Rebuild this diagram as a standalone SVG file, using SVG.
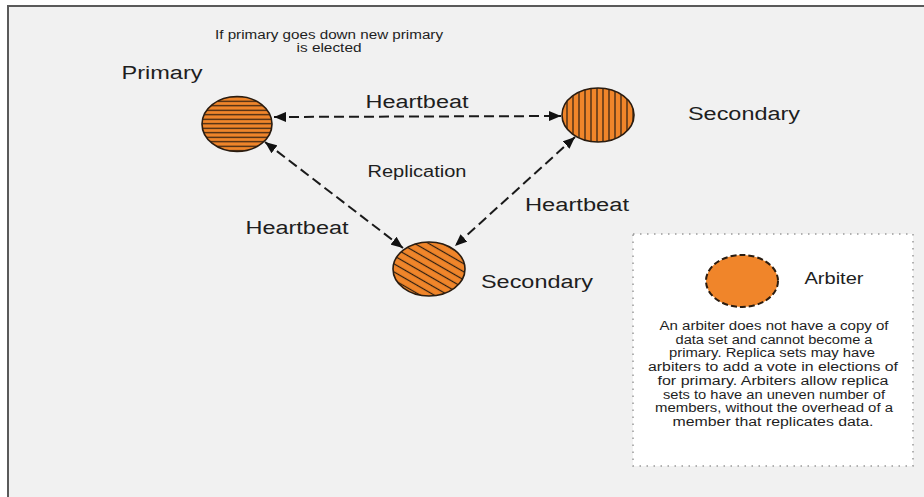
<svg xmlns="http://www.w3.org/2000/svg" width="924" height="497" viewBox="0 0 924 497">
  <style>
    .lbl { font-family: "Liberation Sans", Arial, sans-serif; fill: #1e1e1e; text-anchor: middle; }
    .big { font-size: 18px; }
    .mid { font-size: 16px; }
    .small { font-size: 12px; }
    .para { font-size: 12.5px; }
    .node { stroke: #2a1c10; stroke-width: 1.6; }
    .link { fill: none; stroke: #1a1a1a; stroke-width: 2; stroke-dasharray: 10 5; marker-start: url(#arrow); marker-end: url(#arrow); }
  </style>
  <defs>
    <marker id="arrow" viewBox="0 0 12 10" refX="12" refY="5" markerWidth="12" markerHeight="10" markerUnits="userSpaceOnUse" orient="auto-start-reverse">
      <path d="M0,0 L12,5 L0,10 z" fill="#111"/>
    </marker>
    <pattern id="hatch-h" patternUnits="userSpaceOnUse" width="10" height="4.5">
      <rect width="10" height="4.5" fill="#f0852a"/>
      <line x1="0" y1="2.25" x2="10" y2="2.25" stroke="#2a1c10" stroke-width="1.2"/>
    </pattern>
    <pattern id="hatch-v" patternUnits="userSpaceOnUse" width="6" height="10">
      <rect width="6" height="10" fill="#f0852a"/>
      <line x1="3" y1="0" x2="3" y2="10" stroke="#2a1c10" stroke-width="1.2"/>
    </pattern>
    <pattern id="hatch-d" patternUnits="userSpaceOnUse" width="10" height="7" patternTransform="rotate(30)">
      <rect width="10" height="7" fill="#f0852a"/>
      <line x1="0" y1="3.5" x2="10" y2="3.5" stroke="#2a1c10" stroke-width="1.2"/>
    </pattern>
  </defs>

  <!-- page and frame -->
  <rect x="0" y="0" width="924" height="497" fill="#ffffff"/>
  <rect x="8" y="6" width="940" height="520" fill="#f1f1f1" stroke="#5a5a5a" stroke-width="2"/>

  <!-- note at the top -->
  <g id="note">
    <text class="lbl small" x="329" y="39" textLength="228" lengthAdjust="spacingAndGlyphs">If primary goes down new primary</text>
    <text class="lbl small" x="329" y="52" textLength="65" lengthAdjust="spacingAndGlyphs">is elected</text>
  </g>

  <!-- connectors -->
  <g id="connectors">
    <line class="link" x1="274" y1="117" x2="561" y2="116"/>
    <line class="link" x1="265" y1="142" x2="403" y2="248"/>
    <line class="link" x1="575" y1="137" x2="455" y2="246"/>
    <text class="lbl big" x="417" y="108" textLength="103" lengthAdjust="spacingAndGlyphs">Heartbeat</text>
    <text class="lbl mid" x="417" y="177" textLength="99" lengthAdjust="spacingAndGlyphs">Replication</text>
    <text class="lbl big" x="297" y="234" textLength="103" lengthAdjust="spacingAndGlyphs">Heartbeat</text>
    <text class="lbl big" x="577" y="211" textLength="104" lengthAdjust="spacingAndGlyphs">Heartbeat</text>
  </g>

  <!-- primary member -->
  <g id="primary">
    <ellipse class="node" cx="237" cy="124" rx="35" ry="27.5" fill="url(#hatch-h)"/>
    <text class="lbl big" x="162" y="79" textLength="81" lengthAdjust="spacingAndGlyphs">Primary</text>
  </g>

  <!-- secondary member, upper right -->
  <g id="secondary-1">
    <ellipse class="node" cx="598" cy="115" rx="36" ry="27" fill="url(#hatch-v)"/>
    <text class="lbl big" x="744" y="120" textLength="112" lengthAdjust="spacingAndGlyphs">Secondary</text>
  </g>

  <!-- secondary member, bottom -->
  <g id="secondary-2">
    <ellipse class="node" cx="429" cy="269" rx="36" ry="27" fill="url(#hatch-d)"/>
    <text class="lbl big" x="537" y="288" textLength="112" lengthAdjust="spacingAndGlyphs">Secondary</text>
  </g>

  <!-- arbiter legend -->
  <g id="arbiter">
    <rect x="633" y="234" width="280" height="232" fill="#ffffff" stroke="#9a9a9a" stroke-width="1.5" stroke-dasharray="1.5 5.5"/>
    <ellipse cx="742" cy="281" rx="36" ry="26" fill="#f0852a" stroke="#2a1c10" stroke-width="2" stroke-dasharray="6 3"/>
    <text class="lbl mid" x="834" y="284" textLength="59" lengthAdjust="spacingAndGlyphs">Arbiter</text>
    <text class="lbl para" x="774" y="330" textLength="229" lengthAdjust="spacingAndGlyphs">An arbiter does not have a copy of</text>
    <text class="lbl para" x="774" y="343.7" textLength="197" lengthAdjust="spacingAndGlyphs">data set and cannot become a</text>
    <text class="lbl para" x="772" y="357.4" textLength="206" lengthAdjust="spacingAndGlyphs">primary. Replica sets may have</text>
    <text class="lbl para" x="773" y="371.1" textLength="250" lengthAdjust="spacingAndGlyphs">arbiters to add a vote in elections of</text>
    <text class="lbl para" x="773" y="384.8" textLength="231" lengthAdjust="spacingAndGlyphs">for primary. Arbiters allow replica</text>
    <text class="lbl para" x="774" y="398.5" textLength="222" lengthAdjust="spacingAndGlyphs">sets to have an uneven number of</text>
    <text class="lbl para" x="774" y="412.2" textLength="238" lengthAdjust="spacingAndGlyphs">members, without the overhead of a</text>
    <text class="lbl para" x="773" y="425.9" textLength="201" lengthAdjust="spacingAndGlyphs">member that replicates data.</text>
  </g>
</svg>
